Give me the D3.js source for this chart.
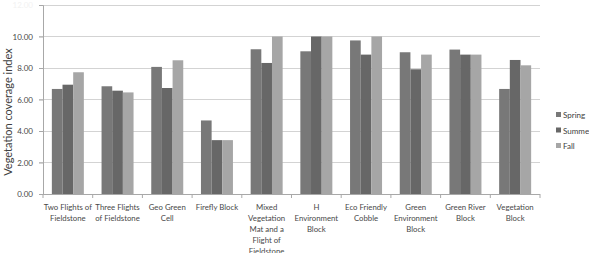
<!DOCTYPE html>
<html><head><meta charset="utf-8">
<script src="https://cdn.jsdelivr.net/npm/d3@7"></script>
<style>body{margin:0;background:#fff;}svg{display:block;font-family:Lato,"Open Sans",sans-serif;}</style>
</head><body>
<svg id="c" width="589" height="253"></svg>
<script>
const categories = ["Two Flights of\nFieldstone","Three Flights\nof Fieldstone","Geo Green\nCell","Firefly Block","Mixed\nVegetation\nMat and a\nFlight of\nFieldstone","H\nEnvironment\nBlock","Eco Friendly\nCobble","Green\nEnvironment\nBlock","Green River\nBlock","Vegetation\nBlock"];
const seriesNames = ["Spring","Summer","Fall"];
const spring = [6.67,6.84,8.07,4.67,9.19,9.06,9.75,9.00,9.17,6.67];
const summer = [6.94,6.56,6.73,3.42,8.32,10.00,8.85,7.92,8.85,8.51];
const fall   = [7.73,6.45,8.49,3.42,10.00,10.00,10.00,8.85,8.85,8.17];
const yTicks = [0,2,4,6,8,10,12];
const colors = ["#787878","#676767","#a6a6a6"];
const yLabel = "Vegetation coverage index";

const values = [spring, summer, fall];
const svg = d3.select("#c");
const L = 43, R = 540, T = 5, B = 194;
const x0 = d3.scaleBand().domain(categories).range([L, R]).paddingInner(0).paddingOuter(0);
const x1 = d3.scaleBand().domain(seriesNames).range([0, x0.bandwidth()]).paddingInner(0).paddingOuter(0.83);
const y = d3.scaleLinear().domain([0, 12]).range([B, T]);

// gridlines
svg.append("g").selectAll("line").data(yTicks.filter(d => d > 0)).join("line")
  .attr("x1", L - 4).attr("x2", R).attr("y1", d => y(d)).attr("y2", d => y(d))
  .attr("stroke", "#d3d3d3").attr("stroke-width", 1).attr("shape-rendering","crispEdges");

// y axis
const ya = svg.append("g").attr("transform", `translate(${L},0)`)
  .call(d3.axisLeft(y).tickValues(yTicks).tickFormat(d3.format(".2f")).tickSize(4).tickPadding(6));
ya.select(".domain").attr("stroke", "#a8a8a8");
ya.selectAll(".tick line").attr("stroke", "#a8a8a8");
ya.selectAll(".tick text").attr("font-size", 8).attr("fill", d => d === 12 ? "#f2f2f2" : "#484848").attr("font-family","Lato");

// bars
const g = svg.append("g");
categories.forEach((c, i) => {
  seriesNames.forEach((s, j) => {
    g.append("rect")
      .attr("x", x0(c) + x1(s)).attr("width", x1.bandwidth())
      .attr("y", y(values[j][i])).attr("height", y(0) - y(values[j][i]))
      .attr("fill", colors[j]);
  });
});

// x axis
const xa = svg.append("g").attr("transform", `translate(0,${B})`);
xa.append("line").attr("x1", L).attr("x2", R).attr("stroke", "#a8a8a8").attr("shape-rendering","crispEdges");
const bounds = d3.range(categories.length + 1).map(i => L + i * x0.step());
xa.selectAll(".tk").data(bounds).join("line").attr("class","tk")
  .attr("x1", d => d).attr("x2", d => d).attr("y1", 0).attr("y2", 4).attr("stroke", "#a8a8a8");
xa.selectAll(".lbl").data(categories).join("text").attr("class","lbl")
  .attr("text-anchor","middle").attr("font-size", 7.8).attr("fill","#484848")
  .attr("transform", d => `translate(${x0(d) + x0.bandwidth()/2},16)`)
  .each(function(d){
    const lines = d.split("\n");
    d3.select(this).selectAll("tspan").data(lines).join("tspan")
      .attr("x", 0).attr("y", (l, k) => k * 11).text(l => l);
  });

// y label
svg.append("text").attr("transform", `translate(12,112) rotate(-90)`)
  .attr("text-anchor","middle").attr("font-size", 11).attr("fill","#404040").text(yLabel);

// legend
const lg = svg.append("g");
seriesNames.forEach((s, j) => {
  const yy = 115 + j * 15.5;
  lg.append("rect").attr("x", 556).attr("y", yy - 3).attr("width", 5).attr("height", 5).attr("fill", colors[j]);
  lg.append("text").attr("x", 563).attr("y", yy + 3).attr("font-size", 8).attr("fill","#404040").text(s);
});
</script>
</body></html>
